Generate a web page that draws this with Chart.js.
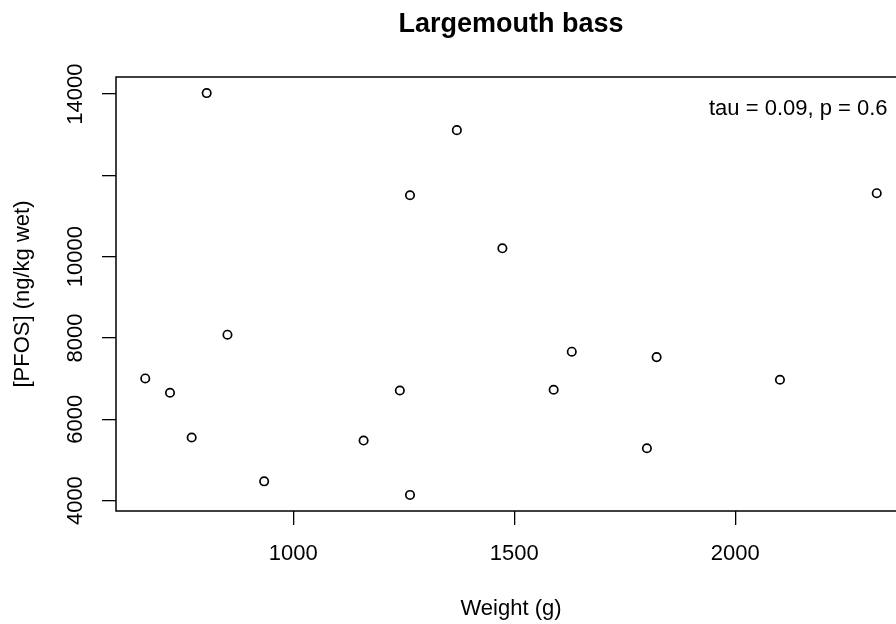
<!DOCTYPE html>
<html>
<head>
<meta charset="utf-8">
<title>Largemouth bass</title>
<script src="https://cdn.jsdelivr.net/npm/chart.js@4.4.1/dist/chart.umd.min.js"></script>
<style>
	html, body { margin: 0; padding: 0; background: #fff; overflow: hidden; }
	#wrap { width: 920px; height: 624px; }
</style>
</head>
<body>
<div id="wrap"><canvas id="bass" width="920" height="624"></canvas></div>
<script>
"use strict";

var weights = [665, 721, 770, 804, 851, 934, 1159, 1241, 1264, 1264, 1370, 1473, 1589, 1630, 1800, 1822, 2101, 2320];
var pfos = [7005, 6653, 5552, 14025, 8081, 4475, 5478, 6709, 11512, 4140, 13113, 10207, 6727, 7663, 5288, 7530, 6973, 11562];
var xTicks = [1000, 1500, 2000];
var xTickLabels = ["1000", "1500", "2000"];
var yTicks = [4000, 6000, 8000, 10000, 12000, 14000];
var yTickLabels = ["4000", "6000", "8000", "10000", "", "14000"];
var chartTitle = "Largemouth bass";
var statsLabel = "tau = 0.09, p = 0.6";

var FONT = "'Liberation Sans', Arial, sans-serif";

// R style axis range: data range stretched by 4% on each side
function paddedRange(values) {
	var lo = Math.min.apply(null, values);
	var hi = Math.max.apply(null, values);
	var pad = (hi - lo) * 0.04;
	return { min: lo - pad, max: hi + pad };
}

var xRange = paddedRange(weights);
var yRange = paddedRange(pfos);

var points = weights.map(function(w, i) {
	return { x: w, y: pfos[i] };
});

var plotBox = {
	id: "plotBox",
	afterDatasetsDraw: function(chart) {
		var a = chart.chartArea;
		var ctx = chart.ctx;
		ctx.save();
		ctx.strokeStyle = "#000";
		ctx.lineWidth = 1.5;
		ctx.strokeRect(a.left, a.top, a.right - a.left, a.bottom - a.top);
		ctx.restore();
	}
};

// title is centred over the plot region, like R's main=
var plotTexts = {
	id: "plotTexts",
	afterDraw: function(chart) {
		var a = chart.chartArea;
		var ctx = chart.ctx;
		ctx.save();
		ctx.fillStyle = "#000";
		ctx.textBaseline = "alphabetic";

		ctx.font = "bold 27px " + FONT;
		ctx.textAlign = "center";
		ctx.fillText(chartTitle, (a.left + a.right) / 2, 32);

		ctx.font = "22px " + FONT;
		ctx.textAlign = "left";
		ctx.fillText(statsLabel, a.left + 593, a.top + 38);
		ctx.restore();
	}
};

var tickFont = { family: FONT, size: 22 };

new Chart(document.getElementById("bass"), {
	type: "scatter",
	data: {
		datasets: [{
			label: "PFOS",
			data: points,
			pointStyle: "circle",
			pointRadius: 4.2,
			pointBorderWidth: 1.7,
			pointBorderColor: "#000",
			pointBackgroundColor: "rgba(0,0,0,0)"
		}]
	},
	options: {
		responsive: false,
		animation: false,
		layout: { padding: { left: 0, right: 14, top: 77, bottom: 0 } },
		plugins: {
			legend: { display: false },
			tooltip: { enabled: false },
			title: { display: false }
		},
		scales: {
			x: {
				type: "linear",
				position: "bottom",
				min: xRange.min,
				max: xRange.max,
				afterBuildTicks: function(scale) {
					scale.ticks = xTicks.map(function(v) { return { value: v }; });
				},
				afterFit: function(scale) { scale.height = 113; },
				ticks: {
					autoSkip: false,
					maxRotation: 0,
					padding: 16,
					color: "#000",
					font: tickFont,
					callback: function(value, index) { return xTickLabels[index]; }
				},
				grid: { drawOnChartArea: false, drawTicks: true, tickLength: 14, color: "#000", lineWidth: 1.3 },
				border: { display: false },
				title: {
					display: true,
					text: "Weight (g)",
					color: "#000",
					font: tickFont,
					padding: { top: 0, bottom: 2 }
				}
			},
			y: {
				type: "linear",
				position: "left",
				min: yRange.min,
				max: yRange.max,
				afterBuildTicks: function(scale) {
					scale.ticks = yTicks.map(function(v) { return { value: v }; });
				},
				afterFit: function(scale) { scale.width = 116; },
				ticks: {
					autoSkip: false,
					minRotation: 90,
					maxRotation: 90,
					crossAlign: "center",
					padding: -5,
					color: "#000",
					font: tickFont,
					callback: function(value, index) { return yTickLabels[index]; }
				},
				grid: { drawOnChartArea: false, drawTicks: true, tickLength: 14, color: "#000", lineWidth: 1.3 },
				border: { display: false },
				title: {
					display: true,
					text: "[PFOS] (ng/kg wet)",
					color: "#000",
					font: tickFont,
					padding: { top: 10, bottom: 0 }
				}
			}
		}
	},
	plugins: [plotBox, plotTexts]
});
</script>
</body>
</html>
